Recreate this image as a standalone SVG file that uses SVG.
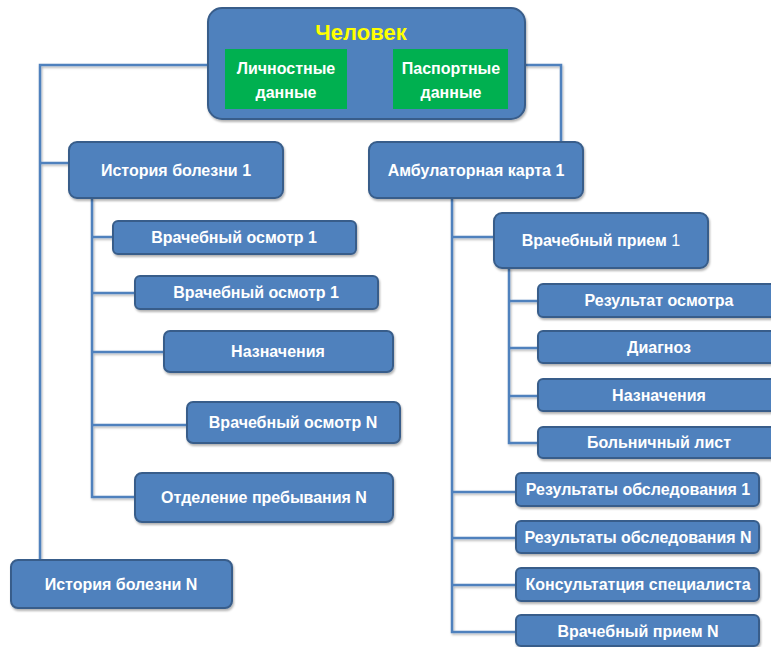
<svg xmlns="http://www.w3.org/2000/svg" width="771" height="647" viewBox="0 0 771 647">
<defs>
<filter id="sh" x="-10%" y="-20%" width="130%" height="160%">
<feDropShadow dx="1" dy="2" stdDeviation="1.2" flood-color="#000" flood-opacity="0.3"/>
</filter>
<filter id="shc" filterUnits="userSpaceOnUse" x="0" y="0" width="771" height="647">
<feDropShadow dx="1" dy="1.5" stdDeviation="1" flood-color="#000" flood-opacity="0.3"/>
</filter>
<style>
.box{fill:#4F81BD;stroke:#385D8A;stroke-width:2;filter:url(#sh)}
.grn{fill:#00B050}
.t{font-family:"Liberation Sans",Arial,sans-serif;font-weight:bold;font-size:16px;fill:#fff;text-anchor:middle}
.title{font-family:"Liberation Sans",Arial,sans-serif;font-weight:bold;font-size:22px;fill:#FFFF00;text-anchor:middle}
.c{fill:none;stroke:#4F81BD;stroke-width:2.5}
</style>
</defs>
<rect width="771" height="647" fill="#fff"/>
<g id="connectors" filter="url(#shc)">
<path class="c" d="M208,65 H40 V560"/>
<path class="c" d="M40,163 H69"/>
<path class="c" d="M525,65 H561 V142"/>
<path class="c" d="M92,198 V497 H135"/>
<path class="c" d="M92,237 H113"/>
<path class="c" d="M92,293 H135"/>
<path class="c" d="M92,352 H164"/>
<path class="c" d="M92,425 H187"/>
<path class="c" d="M452,198 V632 H516"/>
<path class="c" d="M452,237 H494"/>
<path class="c" d="M452,492 H516"/>
<path class="c" d="M452,538 H516"/>
<path class="c" d="M452,585 H516"/>
<path class="c" d="M509,268 V443 H538"/>
<path class="c" d="M509,301 H538"/>
<path class="c" d="M509,348 H538"/>
<path class="c" d="M509,396 H538"/>
</g>
<g id="chelovek">
<rect class="box" x="208" y="8" width="317" height="111" rx="14"/>
<text class="title" x="361" y="40">Человек</text>
</g>
<g id="lichnye">
<rect class="grn" x="225" y="49" width="122" height="60"/>
<text class="t" x="286" y="74">Личностные</text>
<text class="t" x="286" y="98">данные</text>
</g>
<g id="pasport">
<rect class="grn" x="393" y="49" width="115" height="60"/>
<text class="t" x="451" y="74">Паспортные</text>
<text class="t" x="451" y="98">данные</text>
</g>
<g id="hb1">
<rect class="box" x="69" y="142" width="214" height="56" rx="8"/>
<text class="t" x="176" y="176">История болезни 1</text>
</g>
<g id="vo1a">
<rect class="box" x="113" y="221" width="243" height="33" rx="5"/>
<text class="t" x="234" y="243">Врачебный осмотр 1</text>
</g>
<g id="vo1b">
<rect class="box" x="135" y="276" width="243" height="33" rx="5"/>
<text class="t" x="256" y="298">Врачебный осмотр 1</text>
</g>
<g id="naz_l">
<rect class="box" x="164" y="331" width="229" height="41" rx="6"/>
<text class="t" x="278" y="357">Назначения</text>
</g>
<g id="voN">
<rect class="box" x="187" y="402" width="213" height="41" rx="6"/>
<text class="t" x="293" y="428">Врачебный осмотр N</text>
</g>
<g id="otd">
<rect class="box" x="135" y="473" width="258" height="49" rx="7"/>
<text class="t" x="264" y="503">Отделение пребывания N</text>
</g>
<g id="hbN">
<rect class="box" x="11" y="560" width="221" height="48" rx="7"/>
<text class="t" x="121" y="590">История болезни N</text>
</g>
<g id="amb">
<rect class="box" x="369" y="142" width="214" height="56" rx="8"/>
<text class="t" x="476" y="176">Амбулаторная карта 1</text>
</g>
<g id="vp1">
<rect class="box" x="494" y="213" width="214" height="55" rx="8"/>
<text class="t" x="601" y="246">Врачебный прием <tspan font-weight="normal">1</tspan></text>
</g>
<g id="res_osm">
<rect class="box" x="538" y="284" width="245" height="33" rx="5"/>
<text class="t" x="659" y="306">Результат осмотра</text>
</g>
<g id="diag">
<rect class="box" x="538" y="331" width="245" height="32" rx="5"/>
<text class="t" x="659" y="353">Диагноз</text>
</g>
<g id="naz_r">
<rect class="box" x="538" y="379" width="245" height="32" rx="5"/>
<text class="t" x="659" y="401">Назначения</text>
</g>
<g id="boln">
<rect class="box" x="538" y="427" width="245" height="31" rx="5"/>
<text class="t" x="659" y="448">Больничный лист</text>
</g>
<g id="ro1">
<rect class="box" x="516" y="473" width="243" height="33" rx="5"/>
<text class="t" x="638" y="495">Результаты обследования 1</text>
</g>
<g id="roN">
<rect class="box" x="516" y="521" width="243" height="32" rx="5"/>
<text class="t" x="638" y="543">Результаты обследования N</text>
</g>
<g id="kons">
<rect class="box" x="516" y="568" width="243" height="33" rx="5"/>
<text class="t" x="638" y="590">Консультатция специалиста</text>
</g>
<g id="vpN">
<rect class="box" x="516" y="615" width="243" height="31" rx="5"/>
<text class="t" x="638" y="637">Врачебный прием N</text>
</g>
</svg>
